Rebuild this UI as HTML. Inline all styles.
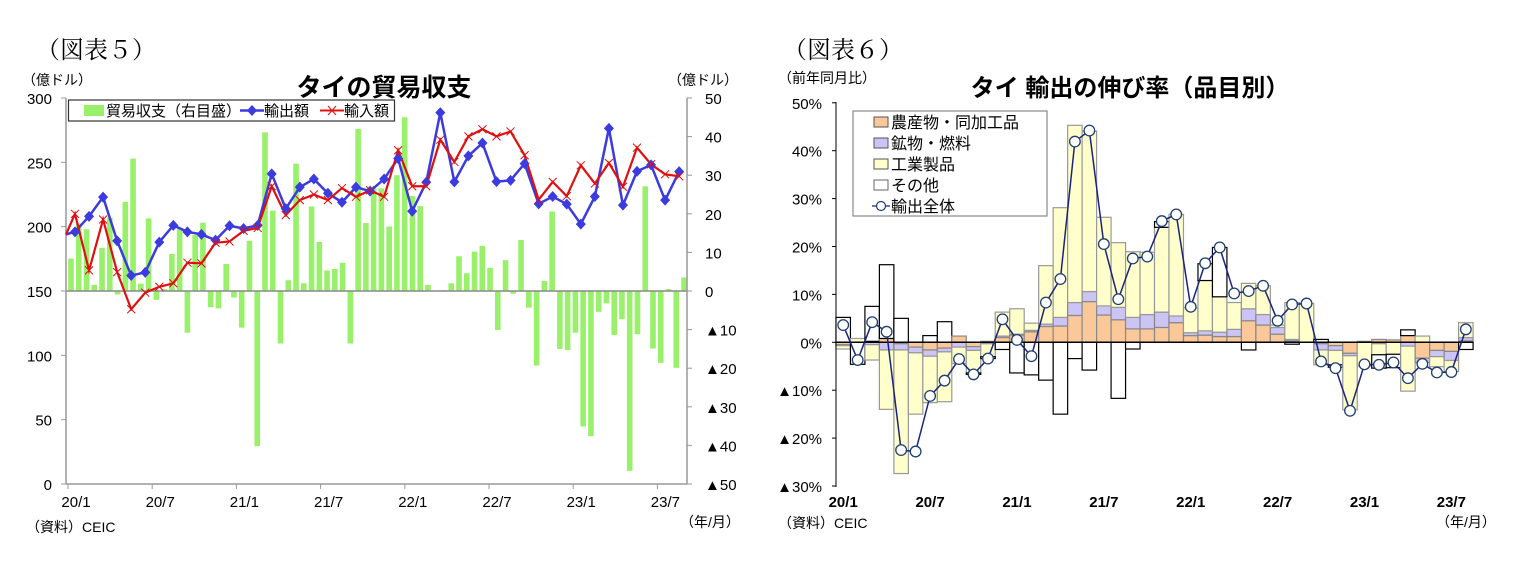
<!DOCTYPE html>
<html><head><meta charset="utf-8"><style>
body{margin:0;background:#fff;}
svg{display:block;font-family:"Liberation Sans","Noto Sans CJK JP",sans-serif;}
</style></head><body>
<svg id="s" width="1516" height="569" viewBox="0 0 1516 569" xmlns="http://www.w3.org/2000/svg">
<rect width="1516" height="569" fill="#fff"/>
<text x="36" y="58" font-family="Liberation Serif,'Noto Serif CJK SC',serif" font-size="24">（図表５）</text>
<text x="783" y="58" font-family="Liberation Serif,'Noto Serif CJK SC',serif" font-size="24">（図表６）</text>
<text x="22" y="85" font-size="14">（億ドル）</text>
<text x="668" y="85" font-size="14">（億ドル）</text>
<text x="384" y="96" font-size="25" font-weight="bold" text-anchor="middle">タイの貿易収支</text>
<text x="778" y="83" font-size="14">（前年同月比）</text>
<text x="1130" y="96" font-size="24" font-weight="bold" text-anchor="middle">タイ  輸出の伸び率（品目別）</text>
<text x="26" y="532" font-size="14">（資料）CEIC</text>
<text x="778" y="528" font-size="14">（資料）CEIC</text>
<text x="680" y="527" font-size="14">（年/月）</text>
<text x="1436" y="527" font-size="14">（年/月）</text>
<g id="L"></g><g id="R"></g>
</svg>
<script>
var NS="http://www.w3.org/2000/svg";
function el(p,t,a,txt){var e=document.createElementNS(NS,t);for(var k in a)e.setAttribute(k,a[k]);if(txt!=null)e.textContent=txt;p.appendChild(e);return e;}
var L=document.getElementById('L'),R=document.getElementById('R');
// LEFT CHART
var x0=66,x1=687,yT=98,yB=484;
function ly(v){return yB-v*386/300;}
function ry(v){return 291-v*3.86;}
var bars=[8.4,17.5,16,1.6,11.2,19,-0.9,23.1,34.3,1.9,18.8,-2.3,0.5,9.6,16.2,-10.8,14.5,17.7,-4.2,-4.5,7,-1.7,-9.5,13,-40.2,41.1,20.8,-13.6,2.8,33,2,21.9,12.7,5.3,5.7,7.3,-13.6,42,17.6,26.6,26.6,16.7,30,45,24.6,22,1.6,0,0.2,2,9,4.6,10.2,11.7,6,-10.1,8,-0.7,13.2,-4.3,-19.3,2.6,20.6,-15,-15.3,-10.8,-35.1,-37.6,-5.4,-3.2,-11.4,-7.3,-46.6,-11.2,27.1,-14.9,-18.6,0.5,-19.9,3.5];
for(var j=0;j<bars.length;j++){var cx=71+7.76*j,v=bars[j];var y=Math.min(291,ry(v)),h=Math.abs(v*3.86);el(L,'rect',{x:cx-2.8,y:y,width:5.6,height:Math.max(h,0.5),fill:'#99f06a'});}
el(L,'line',{x1:x0,y1:291,x2:x1,y2:291,stroke:'#888','stroke-width':1.5});
el(L,'line',{x1:x0,y1:yT,x2:x0,y2:yB,stroke:'#999','stroke-width':1.5});
el(L,'line',{x1:x0,y1:yB,x2:x1,y2:yB,stroke:'#999','stroke-width':1.5});
el(L,'line',{x1:x1,y1:yT,x2:x1,y2:yB,stroke:'#999','stroke-width':1.5});
for(var v=0;v<=300;v+=50){var y=ly(v);el(L,'line',{x1:x0-5,y1:y,x2:x0,y2:y,stroke:'#999'});el(L,'text',{x:52,y:y+6,'font-size':15,'text-anchor':'end'},String(v));}
for(var v=-50;v<=50;v+=10){var y=ry(v);el(L,'line',{x1:x1,y1:y,x2:x1+5,y2:y,stroke:'#999'});el(L,'text',{x:v<0?705:705,y:y+6,'font-size':15},v<0?'▲'+(-v):String(v));}
var labs=['20/1','20/7','21/1','21/7','22/1','22/7','23/1','23/7'];
for(var k=0;k<8;k++){var tx=68+84.2*k;el(L,'line',{x1:tx,y1:yB,x2:tx,y2:yB+5,stroke:'#999'});el(L,'text',{x:tx+8,y:507,'font-size':15,'text-anchor':'middle'},labs[k]);}
var ex=[196,208,223,189,162,164.5,188,201,196,194,189.5,200.7,198.6,201,241,214,230.7,237,226,219,230.7,227.6,237,253,212,234.5,288.6,234.8,255,265,235,236,249,217.7,223.4,217.5,202,223.4,276.4,216.7,243,248,220.6,242.8];
var im=[210,166,205.6,164.7,135.8,148.7,153.3,156,172,171.5,187.5,188.5,196.8,199,231.4,209,220.6,225,220.6,230,223.2,228.3,223.2,259.4,231.4,231.4,267.6,250.3,270.2,275.7,270.2,274,255.5,221,234.8,223.7,247.7,233.5,249.5,231,261.4,248.5,240.7,239.2];
function mx(i){return 75+14.05*i;}
var pr='M66,'+ly(194),pb='M66,'+ly(194);
for(var i=0;i<44;i++){pr+=' L'+mx(i)+','+ly(im[i]);pb+=' L'+mx(i)+','+ly(ex[i]);}
el(L,'path',{d:pb,fill:'none',stroke:'#3b3bdf','stroke-width':2.5});
el(L,'path',{d:pr,fill:'none',stroke:'#e01010','stroke-width':2.2});
for(var i=0;i<44;i++){var x=mx(i),y=ly(ex[i]);el(L,'path',{d:'M'+x+','+(y-5.5)+' L'+(x+5)+','+y+' L'+x+','+(y+5.5)+' L'+(x-5)+','+y+'Z',fill:'#3b3bdf'});
y=ly(im[i]);el(L,'path',{d:'M'+(x-4)+','+(y-4)+' L'+(x+4)+','+(y+4)+' M'+(x+4)+','+(y-4)+' L'+(x-4)+','+(y+4),stroke:'#e01010','stroke-width':1});}
// legend left
el(L,'rect',{x:68.5,y:100,width:326,height:21,fill:'#fff',stroke:'#333','stroke-width':1.2});
el(L,'rect',{x:84,y:105,width:20,height:11,fill:'#99f06a'});
el(L,'text',{x:106,y:116,'font-size':15},'貿易収支（右目盛）');
el(L,'line',{x1:240,y1:110.5,x2:264,y2:110.5,stroke:'#3b3bdf','stroke-width':2.5});
el(L,'path',{d:'M252,105 L257,110.5 L252,116 L247,110.5Z',fill:'#3b3bdf'});
el(L,'text',{x:264,y:116,'font-size':15},'輸出額');
el(L,'line',{x1:320,y1:110.5,x2:344,y2:110.5,stroke:'#e01010','stroke-width':2});
el(L,'path',{d:'M328,106 L336,115 M336,106 L328,115',stroke:'#e01010','stroke-width':1});
el(L,'text',{x:344,y:116,'font-size':15},'輸入額');
// RIGHT CHART
var Z=342.3,P=4.79,ax=836;
function py(v){return Z-v*P;}
var D=[[-0.5,-0.2,-0.7,5.2,3.6],[0,0,0.8,-4.6,-3.7],[0.2,-0.5,-3.2,7.3,4.2],[0.8,-1.6,-12.4,15.4,2.2],[-0.3,-1.3,-25.8,5,-22.5],[-1,-1.2,-12.8,0,-22.8],[-1.6,-1.3,-9.7,1.4,-11.2],[-1.2,-0.8,-10.4,4.3,-8],[1.3,-1,-3.4,0,-3.5],[-0.9,-0.8,-4.7,-0.3,-6.7],[0.2,-0.3,-2.7,-0.4,-3.4],[1,0.3,5,-1.5,4.8],[1.5,0.2,5.3,-6.4,0.5],[2.2,0.3,1.5,-6.8,-2.9],[3.3,0.5,12.2,-7.9,8.3],[3.4,1.8,22.9,-15,13.2],[5.6,2.7,37,-3.4,41.9],[8.5,2.1,33.5,-5.8,44.2],[5.7,1.9,18.5,0,20.5],[4.7,2.6,13.5,-11.7,9],[2.8,2.4,13.7,-1.4,17.5],[2.8,3,13,0,17.9],[3.1,3.2,17.7,1.2,25.3],[4.1,1.4,21.2,0,26.7],[1.4,0.6,5.2,0,7.4],[1.5,0.9,10.5,3.5,16.5],[1.2,0.9,7.4,10.3,19.8],[1.2,1.5,5.6,0,10.2],[4.5,2.5,5.3,-1.6,10.7],[3.6,2.2,6,0,11.8],[1.7,1.4,0.5,0,4.5],[0.3,0.3,7.7,-0.4,7.9],[0,0,8.1,0,8.1],[-0.3,-1.3,-3.1,0.6,-4],[-0.7,-1,-3,-0.5,-5.4],[-2.3,-0.5,-11.3,0,-14.3],[0.2,0,-4.9,0,-4.6],[0.6,-0.3,-2.3,-2.8,-4.7],[0.5,0,-2.5,-2.8,-4.2],[1.4,-0.8,-9.4,1.2,-7.5],[-3.3,-0.9,1.3,0,-4.5],[-1.7,-1.3,-2.1,0,-6.3],[-1.9,-1.9,-2.3,0,-6.2],[0.3,0.7,3.1,-1.5,2.7]];
var fills=['#fbc89a','#ccc4f5','#ffffcc','#ffffff'],strokes=['#888','#888','#999','#000'];
function rx(i){return 843.2+14.48*i;}
for(var i=0;i<44;i++){var pos=0,neg=0,x=rx(i)-7.24;
 for(var c=0;c<4;c++){var v=D[i][c];if(v==0)continue;var a,b;
  if(v>0){a=pos;b=pos+v;pos=b;}else{a=neg;b=neg+v;neg=b;}
  var y1=py(Math.max(a,b)),y2=py(Math.min(a,b));
  el(R,'rect',{x:x,y:y1,width:14.48,height:y2-y1,fill:fills[c],stroke:strokes[c],'stroke-width':1.2});}}
el(R,'line',{x1:ax,y1:Z,x2:1473,y2:Z,stroke:'#000','stroke-width':1.5});
el(R,'line',{x1:ax,y1:102,x2:ax,y2:487,stroke:'#000','stroke-width':1});
for(var v=-30;v<=50;v+=10){var y=py(v);el(R,'line',{x1:ax-4,y1:y,x2:ax,y2:y,stroke:'#000'});el(R,'text',{x:822,y:y+6,'font-size':15,'text-anchor':'end'},v<0?'▲'+(-v)+'%':v+'%');}
for(var k=0;k<8;k++){el(R,'text',{x:rx(6*k),y:507,'font-size':15,'font-weight':'bold','text-anchor':'middle'},labs[k]);}
var pl='';for(var i=0;i<44;i++){pl+=(i?' L':'M')+rx(i)+','+py(D[i][4]);}
el(R,'path',{d:pl,fill:'none',stroke:'#1a237e','stroke-width':1.5});
for(var i=0;i<44;i++)el(R,'circle',{cx:rx(i),cy:py(D[i][4]),r:5.3,fill:'#fff',stroke:'#1f3f6f','stroke-width':1.3});
// legend right
el(R,'rect',{x:853,y:111,width:194,height:105,fill:'#fff',stroke:'#888','stroke-width':1.2});
var ln=['農産物・同加工品','鉱物・燃料','工業製品','その他','輸出全体'];
for(var k=0;k<5;k++){var cy=122+21*k;
 if(k<4)el(R,'rect',{x:874,y:cy-5,width:14,height:10,fill:fills[k],stroke:k==3?'#666':'#555','stroke-width':1});
 else{el(R,'line',{x1:872,y1:cy,x2:890,y2:cy,stroke:'#1a237e','stroke-width':1.3});el(R,'circle',{cx:881,cy:cy,r:4.5,fill:'#fff',stroke:'#1f3f6f','stroke-width':1.2});}
 el(R,'text',{x:891,y:cy+6,'font-size':16},ln[k]);}
</script>
</body></html>
